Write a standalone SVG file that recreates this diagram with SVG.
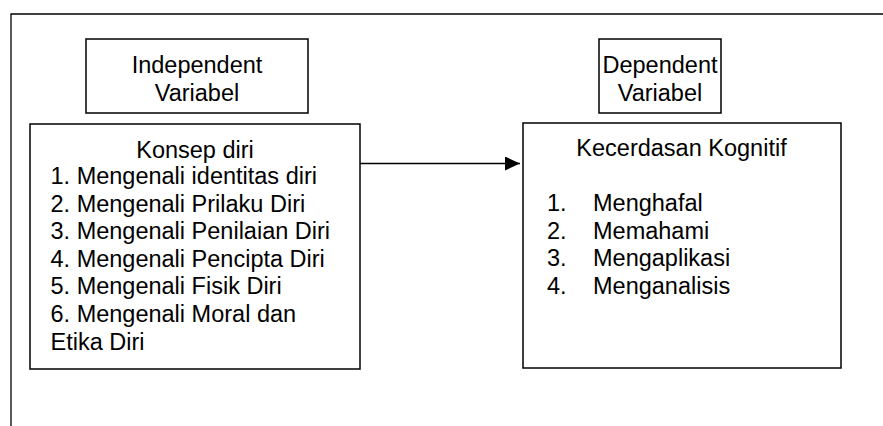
<svg xmlns="http://www.w3.org/2000/svg" width="883" height="426" viewBox="0 0 883 426">
<style>
.box{fill:#fff;stroke:#000;stroke-width:1.5}
.frame{fill:none;stroke:#000;stroke-width:1.3}
text{font-family:"Liberation Sans",Arial,sans-serif;font-size:23.5px;fill:#000}
.c{text-anchor:middle}
</style>
<defs>
<marker id="arr" markerWidth="15" markerHeight="14" refX="15" refY="7" orient="auto" markerUnits="userSpaceOnUse">
<path d="M0,0 L15,7 L0,14 Z" fill="#000"/>
</marker>
</defs>
<rect width="883" height="426" fill="#fff"/>
<path class="frame" d="M11,426 L11,14 L883,14"/>
<g id="independent">
<rect class="box" x="86" y="39" width="222" height="74"/>
<text class="c" x="197" y="73">Independent</text>
<text class="c" x="197" y="100.5">Variabel</text>
</g>
<g id="dependent">
<rect class="box" x="599" y="39" width="122" height="74"/>
<text class="c" x="660" y="73">Dependent</text>
<text class="c" x="660" y="100.5">Variabel</text>
</g>
<g id="konsep">
<rect class="box" x="30" y="124" width="330" height="245"/>
<text class="c" x="195" y="158.3">Konsep diri</text>
<text x="50.5" y="184">1. Mengenali identitas diri</text>
<text x="50.5" y="211.7">2. Mengenali Prilaku Diri</text>
<text x="50.5" y="239.2">3. Mengenali Penilaian Diri</text>
<text x="50.5" y="266.8">4. Mengenali Pencipta Diri</text>
<text x="50.5" y="294.4">5. Mengenali Fisik Diri</text>
<text x="50.5" y="322.2">6. Mengenali Moral dan</text>
<text x="50.5" y="350">Etika Diri</text>
</g>
<g id="kecerdasan">
<rect class="box" x="523" y="123" width="318" height="245"/>
<text class="c" x="681.5" y="156">Kecerdasan Kognitif</text>
<text x="547" y="211">1.</text><text x="593" y="211">Menghafal</text>
<text x="547" y="238.5">2.</text><text x="593" y="238.5">Memahami</text>
<text x="547" y="266">3.</text><text x="593" y="266">Mengaplikasi</text>
<text x="547" y="293.5">4.</text><text x="593" y="293.5">Menganalisis</text>
</g>
<g id="connectors">
<line x1="360" y1="163.5" x2="520" y2="163.5" stroke="#000" stroke-width="1.5" marker-end="url(#arr)"/>
</g>
</svg>
